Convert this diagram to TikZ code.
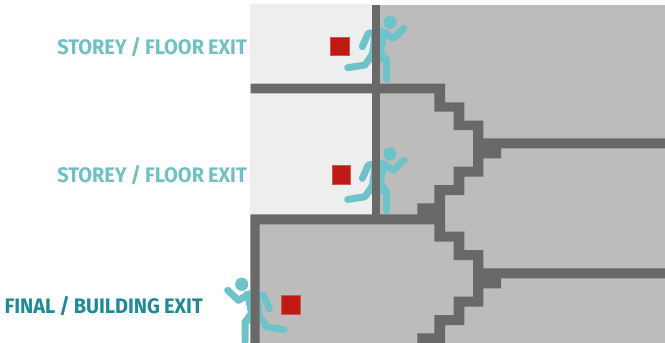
\documentclass[tikz,border=0pt]{standalone}
\usepackage{fontspec}
\setmainfont{Fira Sans}[BoldFeatures={FakeStretch=0.95, WordSpace=0.85}]
\definecolor{wallgrey}{RGB}{105,105,105}
\definecolor{roomgrey}{RGB}{188,188,188}
\definecolor{roomlight}{RGB}{238,238,238}
\definecolor{exitred}{RGB}{192,26,22}
\definecolor{runnerteal}{RGB}{110,195,202}
\definecolor{storeyteal}{RGB}{112,192,198}
\definecolor{finalteal}{RGB}{31,138,150}
\tikzset{
  wall/.style={fill=wallgrey, draw=none},
  roomdark/.style={fill=roomgrey, draw=none},
  roompale/.style={fill=roomlight, draw=none},
  exitsign/.style={rectangle, fill=exitred, draw=exitred!75!white, line width=0.5pt,
                   minimum size=18.5pt, inner sep=0pt},
  exitlabel/.style={anchor=east, inner sep=0pt, font=\fontsize{21}{24}\selectfont\bfseries},
  limb/.style={line width=7pt, runnerteal, line cap=round, line join=round},
  runner/.pic={
    \fill[runnerteal] (0,0) circle (6.6);
    \fill[runnerteal] (-18,8) -- (-2,7) -- (-6,28) -- (-1,36) -- (-9,40) -- (-22,40) -- cycle;
    \draw[limb] (-8.3,9.4) -- (-21.7,11) -- (-27.7,24.4);
    \draw[limb] (-8.3,9.4) -- (3.3,16) -- (14,6);
    \draw[limb] (-11.7,27.7) -- (-3.3,37.7) -- (-3.3,57);
    \draw[limb] (-13.3,25.7) -- (-25,42.7) -- (-42.3,45.4);
  },
}
\begin{document}
\begin{tikzpicture}[x=1pt, y=-1pt]
  \useasboundingbox (0,0) rectangle (665,343);
  % rooms
  \fill[roomdark] (250,5) rectangle (665,343);
  \fill[roompale] (250,4) rectangle (372,84);
  \fill[roompale] (250,93) rectangle (372,215);
  % runners sit behind the walls
  \pic at (390,22.3) {runner};
  \pic at (390,154) {runner};
  \pic[xscale=-1] at (241.7,284.3) {runner};
  % walls and stairs
  \fill[wall] (371.5,5) rectangle (379.5,215);
  \fill[wall] (251,83.7) -- (445,83.7) -- (445,102.3) -- (464.3,102.3) -- (464.3,120.7)
    -- (483.3,120.7) -- (483.3,138.3) -- (665,138.3) -- (665,148.3) -- (501,148.3)
    -- (501,158.3) -- (483.3,158.3) -- (483.3,176.7) -- (464.3,176.7) -- (464.3,195)
    -- (445,195) -- (445,231.7) -- (464.3,231.7) -- (464.3,250) -- (483.3,250)
    -- (483.3,268.3) -- (665,268.3) -- (665,278.3) -- (501,278.3) -- (501,288.3)
    -- (483.3,288.3) -- (483.3,306.7) -- (464.3,306.7) -- (464.3,325) -- (445,325)
    -- (445,343) -- (417.3,343) -- (417.3,333.3) -- (434.3,333.3) -- (434.3,315)
    -- (453.7,315) -- (453.7,296.7) -- (473,296.7) -- (473,260) -- (453.7,260)
    -- (453.7,241.7) -- (434.3,241.7) -- (434.3,224.3) -- (259.5,224.3) -- (259.5,343)
    -- (250.5,343) -- (250.5,214.3) -- (417.3,214.3) -- (417.3,203.3) -- (434.3,203.3)
    -- (434.3,185) -- (453.7,185) -- (453.7,166.7) -- (473,166.7) -- (473,130)
    -- (453.7,130) -- (453.7,111.7) -- (434.3,111.7) -- (434.3,93.3) -- (251,93.3) -- cycle;
  % exit signs
  \node[exitsign] (signtop) at (339.8,46.2) {};
  \node[exitsign] (signmid) at (341.4,174.7) {};
  \node[exitsign] (signlow) at (290.8,304.8) {};
  % labels
  \node[exitlabel, text=storeyteal] (labeltop) at (247,47.5) {STOREY / FLOOR EXIT};
  \node[exitlabel, text=storeyteal] (labelmid) at (247,175.5) {STOREY / FLOOR EXIT};
  \node[exitlabel, text=finalteal] (labellow) at (203,306) {FINAL / BUILDING EXIT};
\end{tikzpicture}
\end{document}
